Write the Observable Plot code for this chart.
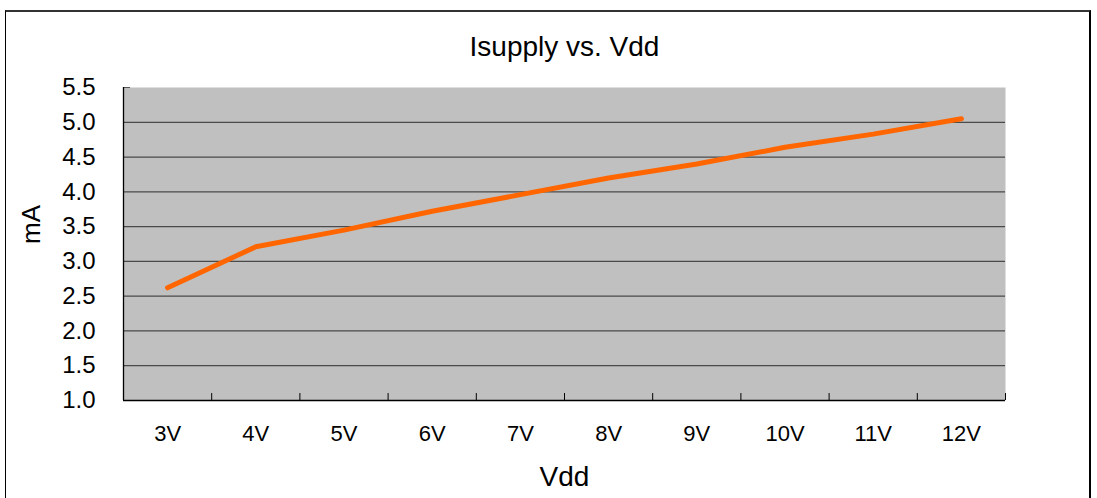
<!DOCTYPE html>
<html>
<head>
<meta charset="utf-8">
<script src="https://cdn.jsdelivr.net/npm/d3@7"></script>
<script src="https://cdn.jsdelivr.net/npm/@observablehq/plot@0.6"></script>
<style>
  html, body { margin: 0; padding: 0; background: #fff; overflow: hidden; }
  #wrap { position: relative; width: 1097px; height: 498px; }
  #border { position: absolute; left: 5px; top: 10px; width: 1083px; height: 500px;
            border-top: 2px solid #333; border-left: 1px solid #000; border-right: 2px solid #000; }
  #chart { position: absolute; left: 0; top: 0; }
</style>
</head>
<body>
<div id="wrap"><div id="border"></div><div id="chart"></div></div>
<script>
const title = "Isupply vs. Vdd";
const xTitle = "Vdd";
const yTitle = "mA";
const categories = ["3V", "4V", "5V", "6V", "7V", "8V", "9V", "10V", "11V", "12V"];
const isupply = [2.62, 3.21, 3.45, 3.72, 3.96, 4.20, 4.40, 4.64, 4.83, 5.05];
const yTicks = [1.0, 1.5, 2.0, 2.5, 3.0, 3.5, 4.0, 4.5, 5.0, 5.5];

const n = categories.length;
const idx = categories.map((c, i) => i + 1);
const boundaries = d3.range(1.5, n + 1, 1);
const yMin = yTicks[0], yMax = yTicks[yTicks.length - 1];
const font = "'Liberation Sans', Arial, sans-serif";

const chart = Plot.plot({
  width: 1097,
  height: 498,
  marginLeft: 123,
  marginRight: 92,
  marginTop: 87,
  marginBottom: 98,
  style: { fontFamily: font, background: "transparent", color: "#000" },
  x: { type: "linear", domain: [0.5, n + 0.5], axis: null },
  y: { domain: [yMin, yMax], axis: null },
  marks: [
    Plot.frame({ fill: "#c0c0c0", stroke: null }),
    Plot.ruleY(yTicks.slice(1, -1), { stroke: "#4a4a4a", strokeWidth: 1.3 }),
    Plot.ruleY([yMax], { x1: 0.5, x2: 0.58, stroke: "#555" }),
    Plot.ruleY([yMin], { stroke: "#000", strokeWidth: 1.3 }),
    Plot.ruleX([0.5], { stroke: "#000", strokeWidth: 1.3 }),
    Plot.ruleX(boundaries, { x: d => d, y1: yMin, y2: yMin + 0.1, stroke: "#000", strokeWidth: 1 }),
    Plot.axisX(idx, { tickSize: 0, tickPadding: 25, fontSize: 22, tickFormat: i => categories[i - 1], label: null }),
    Plot.axisY(yTicks, { tickSize: 0, tickPadding: 28, fontSize: 24, tickFormat: d3.format(".1f"), label: null }),
    Plot.line(isupply, { x: (d, i) => i + 1, y: d => d, stroke: "#ff6600", strokeWidth: 5, strokeLinecap: "round", strokeLinejoin: "round" }),
    Plot.text([title], { frameAnchor: "top", lineAnchor: "middle", dy: -40, fontSize: 28, fill: "#000" }),
    Plot.text([xTitle], { frameAnchor: "bottom", lineAnchor: "middle", dy: 77, fontSize: 28, fill: "#000" }),
    Plot.text([yTitle], { frameAnchor: "left", lineAnchor: "middle", dx: -92, rotate: -90, fontSize: 26, fill: "#000" })
  ]
});
document.getElementById("chart").appendChild(chart);
</script>
</body>
</html>
